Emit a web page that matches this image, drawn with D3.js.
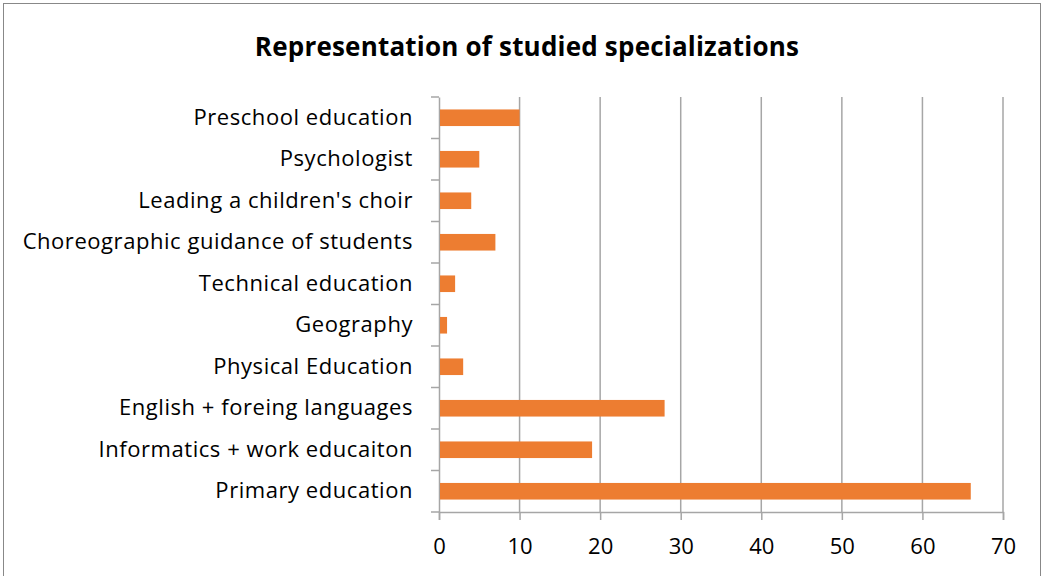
<!DOCTYPE html>
<html><head><meta charset="utf-8">
<script src="https://cdn.jsdelivr.net/npm/d3@7"></script>
<style>
body{margin:0;background:#fff;}
svg{display:block;font-family:"Open Sans",sans-serif;}
</style></head>
<body>
<svg id="c" width="1043" height="576"></svg>
<script>
const categories = ["Preschool education","Psychologist","Leading a children's choir","Choreographic guidance of students","Technical education","Geography","Physical Education","English + foreing languages","Informatics + work educaiton","Primary education"];
const values = [10,5,4,7,2,1,3,28,19,66];
const xTicks = [0,10,20,30,40,50,60,70];
const title = "Representation of studied specializations";

const svg = d3.select("#c");
svg.append("rect").attr("x",3.5).attr("y",3.5).attr("width",1037).attr("height",580)
  .attr("fill","#fff").attr("stroke","#888").attr("stroke-width",1);

const m = {left:439, right:1003, top:97, bottom:512};
const x = d3.scaleLinear().domain([0,70]).range([m.left,m.right]);
const y = d3.scaleBand().domain(categories).range([m.top,m.bottom]).paddingInner(0.6).paddingOuter(0.3);
const yb = d3.scaleBand().domain(categories).range([m.top,m.bottom]);

svg.append("text").attr("x",527).attr("y",56).attr("text-anchor","middle")
  .attr("font-size",26).attr("font-weight","bold").attr("letter-spacing",0.2).attr("fill","#000").text(title);

// gridlines
svg.append("g").selectAll("line").data(xTicks.slice(1)).join("line")
  .attr("x1",d=>x(d)).attr("x2",d=>x(d)).attr("y1",m.top).attr("y2",m.bottom)
  .attr("stroke","#a6a6a6").attr("stroke-width",1.5);

// x axis
const gx = svg.append("g").attr("transform",`translate(0,${m.bottom})`)
  .call(d3.axisBottom(x).tickValues(xTicks).tickSize(8).tickPadding(18).tickFormat(d3.format("d")));
gx.select(".domain").attr("stroke","#a6a6a6").attr("stroke-width",1.5);
gx.selectAll(".tick line").attr("stroke","#a6a6a6").attr("stroke-width",1.5);
gx.selectAll("text").attr("font-size",22).attr("fill","#000").attr("font-family","Open Sans,sans-serif");

// y axis
const gy = svg.append("g").attr("transform",`translate(${m.left},0)`)
  .call(d3.axisLeft(yb).tickSize(0).tickPadding(26));
gy.select(".domain").attr("stroke","#a6a6a6").attr("stroke-width",1.5);
gy.selectAll("text").attr("font-size",22).attr("letter-spacing",0.55).attr("fill","#000").attr("font-family","Open Sans,sans-serif");
// band boundary ticks
const bounds = categories.map(c=>yb(c)).concat([m.bottom]);
svg.append("g").selectAll("line").data(bounds).join("line")
  .attr("x1",m.left-8).attr("x2",m.left).attr("y1",d=>d).attr("y2",d=>d)
  .attr("stroke","#a6a6a6").attr("stroke-width",1.5);

// bars
svg.append("g").selectAll("rect").data(categories).join("rect")
  .attr("x",x(0)+1).attr("y",d=>y(d)).attr("height",y.bandwidth())
  .attr("width",(d,i)=>x(values[i])-x(0)-1).attr("fill","#ed7d31");
</script>
</body></html>
